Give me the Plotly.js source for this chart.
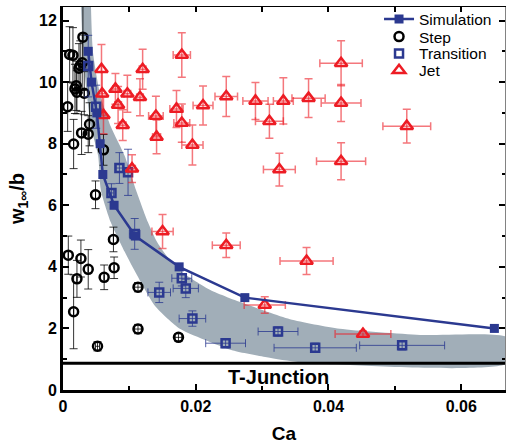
<!DOCTYPE html>
<html>
<head>
<meta charset="utf-8">
<script src="https://cdn.plot.ly/plotly-3.0.1.min.js"></script>
<style>html,body{margin:0;padding:0;background:#fff;}#chart{width:507px;height:448px;}</style>
</head>
<body>
<div id="chart"></div>
<script>
// Simulation curve
const simX = [0.0038, 0.0043, 0.0051, 0.0056, 0.0060, 0.0077, 0.0109, 0.0175, 0.0274, 0.0650];
const simY = [11, 10, 9, 8, 7, 6, 5, 4, 3, 2];

// Step regime
const stepX = [0.0030, 0.0010, 0.0015, 0.0029, 0.0026, 0.0024, 0.0020, 0.0018, 0.0021, 0.0032, 0.0007, 0.0040, 0.0028, 0.0038, 0.0016, 0.0061, 0.0049, 0.0008, 0.0027, 0.0021, 0.0038, 0.0062, 0.0076, 0.0077, 0.0113, 0.0016, 0.0113, 0.0052, 0.0174];
const stepY = [11.46, 10.90, 10.87, 10.63, 10.54, 10.45, 9.88, 9.78, 9.67, 9.64, 9.20, 8.63, 8.35, 8.31, 7.99, 7.80, 6.34, 4.38, 4.27, 3.61, 3.92, 3.66, 4.89, 3.97, 3.34, 2.54, 1.98, 1.42, 1.71];
const stepErrY = [1.0, 0.9, 0.9, 0.9, 0.8, 0.8, 0.8, 0.8, 0.7, 0.7, 0.8, 0.7, 0.7, 0.6, 0.8, 0.5, 0.45, 0.62, 0.6, 0.6, 0.64, 0.4, 0.4, 0.35, 0.15, 1.2, 0.15, 0.15, 0.12];
const stepErrX = [0, 0, 0, 0, 0, 0, 0, 0, 0, 0, 0, 0, 0, 0, 0, 0, 0, 0, 0, 0, 0, 0, 0, 0, 0.0005, 0, 0.0005, 0.0003, 0.0005];

// Transition regime
const transX = [0.0038, 0.0050, 0.0085, 0.0098, 0.0073, 0.0108, 0.0179, 0.0185, 0.0145, 0.0195, 0.0324, 0.0245, 0.0380, 0.0511];
const transY = [10.52, 9.20, 7.21, 7.07, 6.40, 5.07, 3.63, 3.30, 3.17, 2.32, 1.90, 1.52, 1.37, 1.45];
const transErrY = [1.0, 0.7, 0.5, 0.75, 0.3, 0.5, 0.25, 0.3, 0.33, 0.25, 0.15, 0.15, 0.15, 0.15];
const transErrX = [0, 0, 0.0005, 0.0005, 0.0003, 0.0008, 0.0015, 0.0019, 0.0017, 0.0020, 0.0030, 0.0030, 0.0062, 0.0064];

// Jet regime
const jetX = [0.0058, 0.0059, 0.0061, 0.0079, 0.0083, 0.0097, 0.0090, 0.0104, 0.0116, 0.0120, 0.0141, 0.0140, 0.0150, 0.0171, 0.0179, 0.0179, 0.0195, 0.0211, 0.0246, 0.0246, 0.0290, 0.0304, 0.0311, 0.0326, 0.0332, 0.0367, 0.0370, 0.0419, 0.0419, 0.0419, 0.0452, 0.0518];
const jetY = [10.42, 9.62, 8.92, 9.78, 9.26, 9.62, 8.60, 7.19, 9.51, 10.42, 8.22, 8.90, 5.15, 9.13, 10.88, 8.67, 7.96, 9.24, 9.53, 4.70, 9.39, 2.76, 8.73, 7.16, 9.39, 4.19, 9.48, 10.61, 9.32, 7.43, 1.82, 8.57];
const jetErrY = [0.8, 0.7, 0.6, 0.5, 0.6, 0.6, 0.5, 0.45, 0.6, 0.65, 0.55, 0.64, 0.55, 0.6, 0.72, 0.62, 0.65, 0.63, 0.65, 0.4, 0.6, 0.27, 0.55, 0.53, 0.75, 0.44, 0.63, 0.73, 0.6, 0.6, 0.1, 0.55];
const jetErrX = [0, 0, 0, 0.0004, 0.0005, 0.0005, 0.0005, 0.0005, 0.0005, 0.0005, 0.0006, 0.0011, 0.0016, 0.0010, 0.0013, 0.0012, 0.0016, 0.0015, 0.0017, 0.0021, 0.0019, 0.0031, 0.0021, 0.0024, 0.0015, 0.0040, 0.0025, 0.0032, 0.0030, 0.0037, 0.0042, 0.0036];

// Shaded band (upper edge, then lower edge back)
const bandUpperX = [0.0042, 0.0045, 0.0056, 0.0072, 0.0093, 0.0110, 0.0128, 0.0142, 0.0160, 0.0178, 0.0222, 0.0274, 0.0342, 0.0417, 0.0538, 0.0670];
const bandUpperY = [12.6, 11.0, 9.6, 8.56, 7.6, 6.5, 5.45, 4.8, 4.25, 3.85, 3.25, 2.8, 2.3, 1.99, 1.79, 1.70];
const bandLowerX = [0.0670, 0.0357, 0.0307, 0.0256, 0.0217, 0.0176, 0.0139, 0.0111, 0.0093, 0.0072, 0.0057, 0.0053, 0.0042, 0.0036, 0.0030, 0.0027];
const bandLowerY = [0.87, 0.90, 1.06, 1.28, 1.60, 1.99, 2.72, 3.75, 4.49, 5.45, 6.5, 7.6, 8.56, 9.6, 11.0, 12.6];

// Axis ticks
const xTickVals = [0, 0.02, 0.04, 0.06];
const xTickText = ['0', '0.02', '0.04', '0.06'];
const yTickVals = [0, 2, 4, 6, 8, 10, 12];
const yTickText = ['0', '2', '4', '6', '8', '10', '12'];
const tJunctionY = 0.87;

const FONT = 'Arial, "Liberation Sans", sans-serif';
const BLUE = 'rgb(43,57,144)';
const RED = 'rgb(237,28,36)';

const traces = [
  {
    x: bandUpperX.concat(bandLowerX), y: bandUpperY.concat(bandLowerY),
    mode: 'lines', fill: 'toself', fillcolor: 'rgb(161,174,184)',
    line: {width: 0, shape: 'spline', smoothing: 0.6}, showlegend: false, hoverinfo: 'skip'
  },
  {
    x: stepX, y: stepY, name: 'Step', mode: 'markers', legend: 'legend2',
    marker: {symbol: 'circle-open', size: 9, color: 'black', line: {width: 2.5, color: 'black'}},
    error_y: {type: 'data', array: stepErrY, color: 'rgba(0,0,0,0.8)', thickness: 1, width: 4},
    error_x: {type: 'data', array: stepErrX, color: 'rgba(0,0,0,0.8)', thickness: 1, width: 3}
  },
  {
    x: transX, y: transY, name: 'Transition', mode: 'markers', legend: 'legend3',
    marker: {symbol: 'square-open', size: 8, color: BLUE, line: {width: 2.5, color: BLUE}},
    error_y: {type: 'data', array: transErrY, color: 'rgba(43,57,144,0.8)', thickness: 1, width: 4},
    error_x: {type: 'data', array: transErrX, color: 'rgba(43,57,144,0.8)', thickness: 1, width: 4}
  },
  {
    x: jetX, y: jetY, name: 'Jet', mode: 'markers', legend: 'legend4',
    marker: {symbol: 'triangle-up-open', size: 11, color: RED, line: {width: 2.5, color: RED}},
    error_y: {type: 'data', array: jetErrY, color: 'rgba(237,28,36,0.6)', thickness: 1.5, width: 4},
    error_x: {type: 'data', array: jetErrX, color: 'rgba(237,28,36,0.6)', thickness: 1.5, width: 4}
  },
  {
    x: simX, y: simY, name: 'Simulation', mode: 'lines+markers', legend: 'legend',
    line: {color: BLUE, width: 2.5},
    marker: {symbol: 'square', size: 9, color: BLUE}
  },
  {x: [], y: [], xaxis: 'x2', yaxis: 'y2', showlegend: false, hoverinfo: 'skip'}
];

function legendAt(yTop) {
  return {x: 0.715, y: yTop, xanchor: 'left', yanchor: 'top', bgcolor: 'rgba(0,0,0,0)',
          font: {family: FONT, size: 15.5, color: 'black'}};
}

const layout = {
  width: 507, height: 448,
  margin: {l: 63, r: 2, t: 2, b: 58},
  paper_bgcolor: 'white', plot_bgcolor: 'white',
  font: {family: FONT, color: 'black'},
  showlegend: true,
  legend: legendAt(1.012),
  legend2: legendAt(0.966),
  legend3: legendAt(0.922),
  legend4: legendAt(0.878),
  xaxis: {
    range: [0, 0.0666], showline: true, linewidth: 3, linecolor: 'black', mirror: false,
    ticks: 'inside', ticklen: 6, tickwidth: 2, tickcolor: 'black',
    tickvals: xTickVals, ticktext: xTickText,
    minor: {ticks: 'inside', dtick: 0.01, tick0: 0, ticklen: 4, tickwidth: 2, tickcolor: 'black', showgrid: false},
    showgrid: false, zeroline: false,
    tickfont: {family: FONT, size: 16, weight: 'bold'},
    title: {text: 'Ca', font: {family: FONT, size: 19, weight: 'bold'}, standoff: 13}
  },
  yaxis: {
    range: [0, 12.44], showline: true, linewidth: 3, linecolor: 'black',
    ticks: 'inside', ticklen: 6, tickwidth: 2, tickcolor: 'black',
    tickvals: yTickVals, ticktext: yTickText,
    minor: {ticks: 'inside', dtick: 1, tick0: 0, ticklen: 4, tickwidth: 2, tickcolor: 'black', showgrid: false},
    showgrid: false, zeroline: false,
    tickfont: {family: FONT, size: 16, weight: 'bold'},
    title: {text: 'w<sub>1∞</sub>/b', font: {family: FONT, size: 20, weight: 'bold'}, standoff: 10}
  },
  xaxis2: {
    overlaying: 'x', side: 'top', anchor: 'y', range: [0, 0.0666],
    showline: true, linewidth: 1.5, linecolor: 'black',
    ticks: 'inside', ticklen: 5, tickwidth: 2, tickcolor: 'black', dtick: 0.01, tick0: 0,
    showticklabels: false, showgrid: false, zeroline: false
  },
  yaxis2: {
    overlaying: 'y', side: 'right', anchor: 'x', range: [0, 12.44],
    showline: true, linewidth: 1, linecolor: 'rgb(130,130,130)',
    ticks: 'inside', ticklen: 6, tickwidth: 2, tickcolor: 'black', dtick: 2, tick0: 0,
    minor: {ticks: 'inside', dtick: 1, tick0: 0, ticklen: 3, tickwidth: 2, tickcolor: 'black', showgrid: false},
    showticklabels: false, showgrid: false, zeroline: false
  },
  shapes: [
    {type: 'line', xref: 'paper', x0: 0, x1: 1, yref: 'y', y0: tJunctionY, y1: tJunctionY,
     line: {color: 'black', width: 3}}
  ],
  annotations: [
    {x: 0.0324, y: tJunctionY / 2, xref: 'x', yref: 'y', text: 'T-Junction', showarrow: false,
     font: {family: FONT, size: 20, weight: 'bold', color: 'black'}}
  ]
};

Plotly.newPlot('chart', traces, layout, {displayModeBar: false, staticPlot: true});
</script>
</body>
</html>
